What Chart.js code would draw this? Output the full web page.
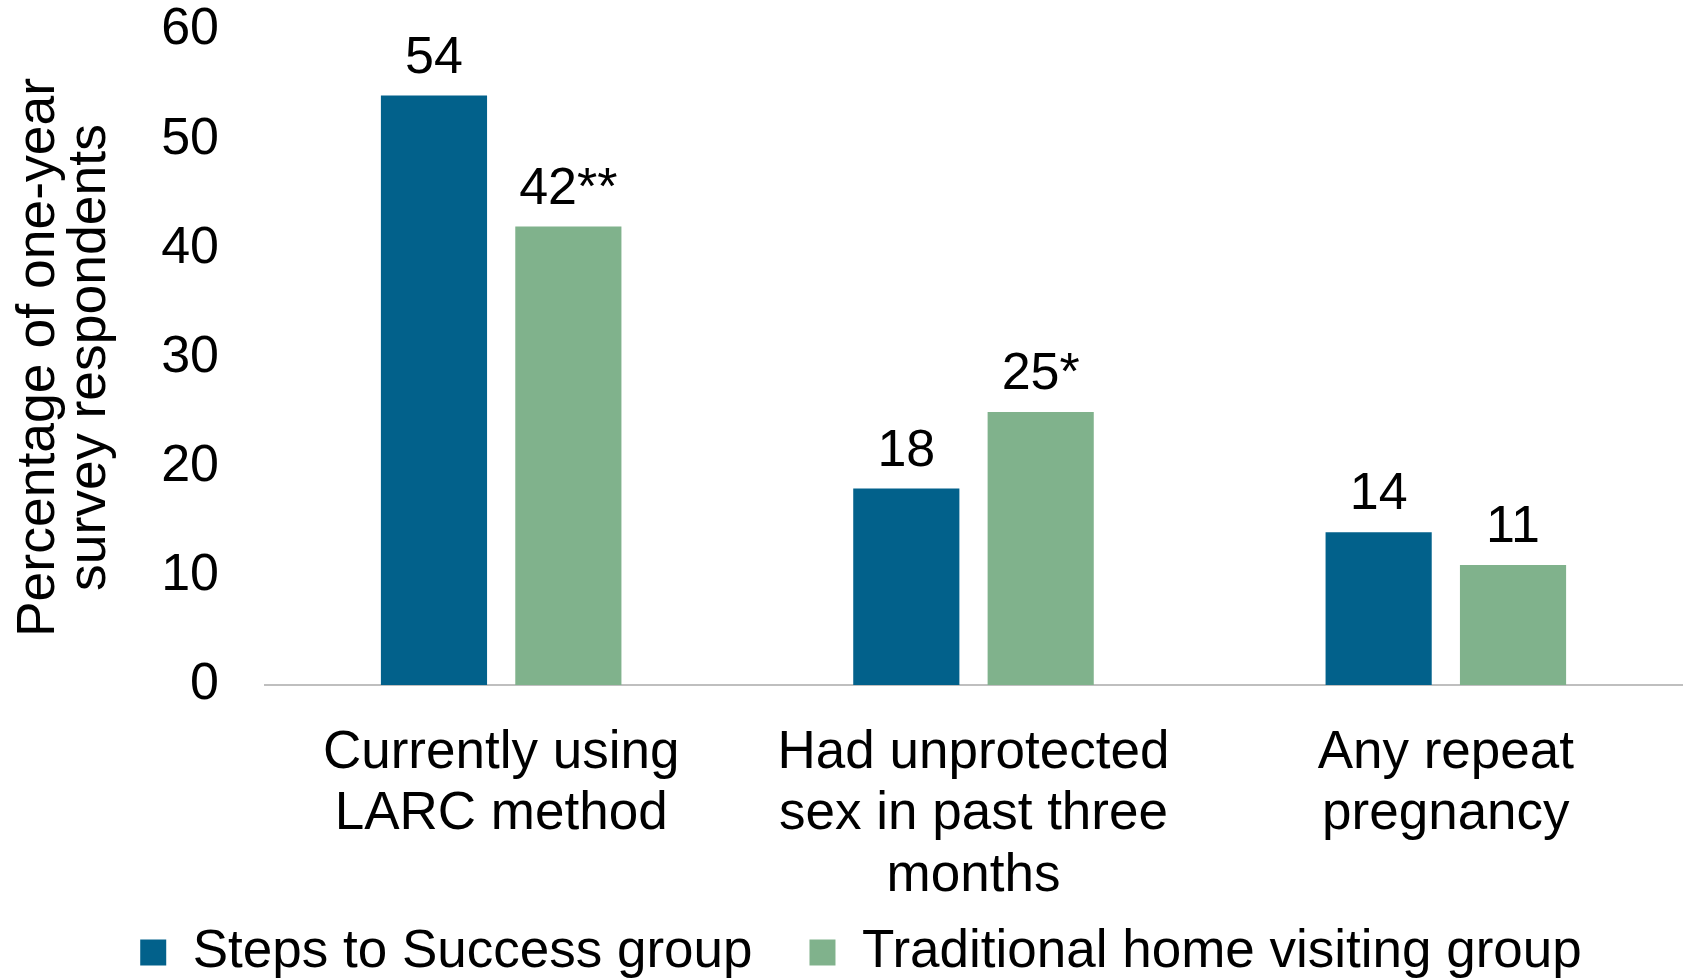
<!DOCTYPE html>
<html>
<head>
<meta charset="utf-8">
<script src="https://cdn.jsdelivr.net/npm/chart.js@4.4.0/dist/chart.umd.min.js"></script>
<style>
    body { margin: 0; background: #fff; }
    #wrap { width: 1685px; height: 979px; }
</style>
</head>
<body>
<div id="wrap"><canvas id="chart" width="1685" height="979"></canvas></div>
<script>
// chart data
const categories = [
    ['Currently using', 'LARC method'],
    ['Had unprotected', 'sex in past three', 'months'],
    ['Any repeat', 'pregnancy']
];
const seriesNames = ['Steps to Success group', 'Traditional home visiting group'];
const stepsValues = [54, 18, 14];
const traditionalValues = [42, 25, 11];
const stepsLabels = ['54', '18', '14'];
const traditionalLabels = ['42**', '25*', '11'];
const yTicks = [0, 10, 20, 30, 40, 50, 60];

const FONT = "'Liberation Sans', Arial, sans-serif";

// value labels above bars
const barLabels = {
    id: 'barLabels',
    afterDatasetsDraw(chart) {
        const ctx = chart.ctx;
        const allLabels = [stepsLabels, traditionalLabels];
        ctx.save();
        ctx.font = '52px ' + FONT;
        ctx.fillStyle = '#000';
        ctx.textAlign = 'center';
        ctx.textBaseline = 'alphabetic';
        chart.data.datasets.forEach((ds, i) => {
            const meta = chart.getDatasetMeta(i);
            meta.data.forEach((bar, j) => {
                ctx.fillText(allLabels[i][j], bar.x, bar.y - 23);
            });
        });
        ctx.restore();
    }
};

new Chart(document.getElementById('chart'), {
    type: 'bar',
    data: {
        labels: categories,
        datasets: [{
            label: seriesNames[0],
            data: stepsValues,
            backgroundColor: '#02618B',
            categoryPercentage: 0.569,
            barPercentage: 0.79
        }, {
            label: seriesNames[1],
            data: traditionalValues,
            backgroundColor: '#80B28C',
            categoryPercentage: 0.569,
            barPercentage: 0.79
        }]
    },
    options: {
        responsive: false,
        animation: false,
        layout: { padding: { top: 30, right: 3, left: 40, bottom: -10 } },
        scales: {
            x: {
                grid: { display: false },
                border: { display: true, color: '#BFBFBF', width: 2 },
                ticks: {
                    color: '#000',
                    font: { family: FONT, size: 53, lineHeight: 1.155 },
                    maxRotation: 0,
                    padding: 30
                },
                afterFit(scale) {
                    scale.height = 184;
                    // third label line runs into the legend band, don't clip it
                    scale._computeLabelArea = () => undefined;
                }
            },
            y: {
                min: 0,
                max: 60,
                grid: { display: false, drawTicks: false },
                border: { display: false },
                afterBuildTicks(scale) { scale.ticks = yTicks.map(v => ({ value: v })); },
                ticks: {
                    color: '#000',
                    font: { family: FONT, size: 52 },
                    padding: 46
                },
                title: {
                    display: true,
                    text: ['Percentage of one-year', 'survey respondents'],
                    color: '#000',
                    font: { family: FONT, size: 53.5, lineHeight: 0.944 },
                    padding: { top: -26, bottom: 0 }
                },
                afterFit(scale) {
                    scale.width = 225;
                    scale.paddingTop = 0;
                    scale.paddingBottom = 0;
                }
            }
        },
        plugins: {
            legend: {
                position: 'bottom',
                labels: {
                    color: '#000',
                    font: { family: FONT, size: 53 },
                    boxWidth: 26,
                    boxHeight: 26,
                    padding: 57
                }
            },
            tooltip: { enabled: false }
        }
    },
    plugins: [barLabels]
});
</script>
</body>
</html>
